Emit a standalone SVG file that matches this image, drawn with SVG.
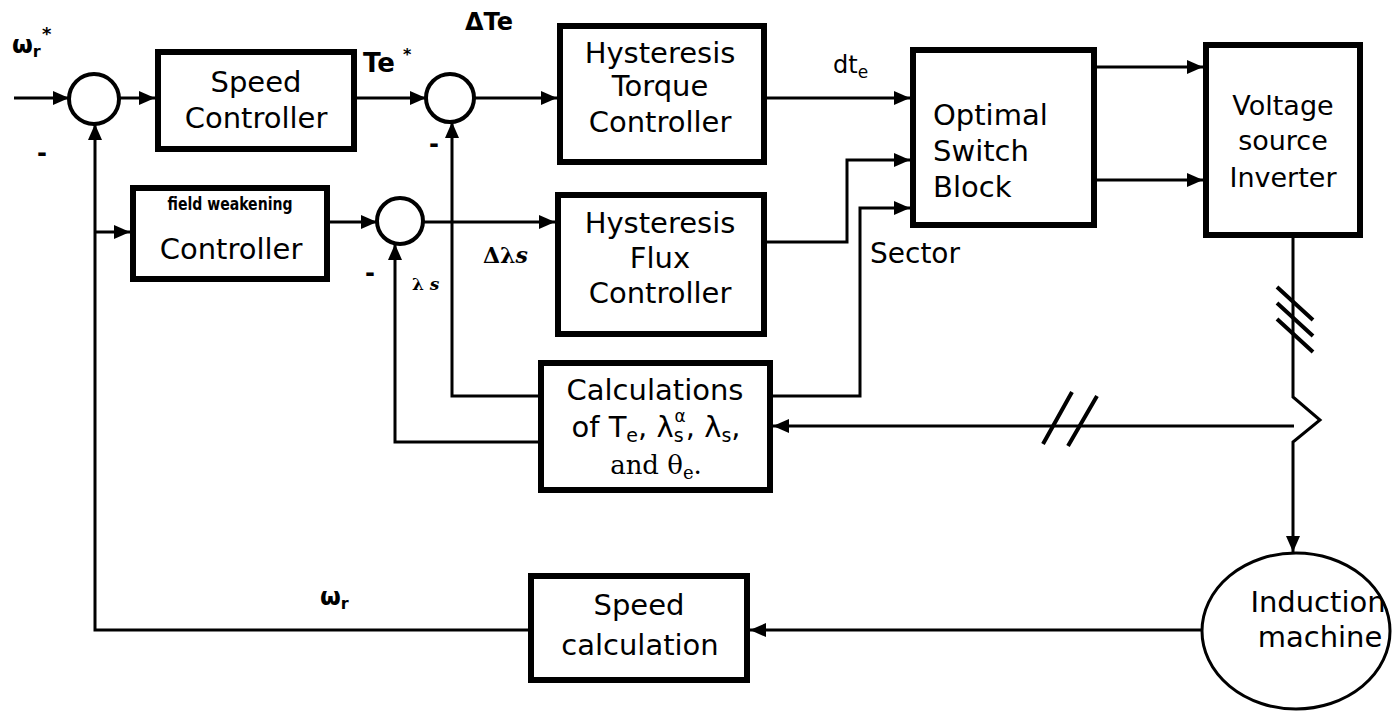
<svg xmlns="http://www.w3.org/2000/svg" width="1392" height="712" viewBox="0 0 1392 712">
<style>
.box{fill:#fff;stroke:#000;stroke-width:6}
.sum{fill:#fff;stroke:#000;stroke-width:4}
.ln{fill:none;stroke:#000;stroke-width:3}
.sl{fill:none;stroke:#000;stroke-width:4}
.t{font-family:"DejaVu Sans","Liberation Sans",sans-serif;font-size:29px;text-anchor:middle;fill:#000}
.tl{font-family:"DejaVu Sans","Liberation Sans",sans-serif;font-size:29px;fill:#000}
.lb{font-family:"DejaVu Sans","Liberation Sans",sans-serif;font-weight:bold;font-size:24px;fill:#000}
.lr{font-family:"DejaVu Sans","Liberation Sans",sans-serif;font-size:24px;fill:#000}
.ls{font-family:"DejaVu Serif","Liberation Serif",serif;font-weight:bold;fill:#000}
</style>
<defs>
<marker id="ah" viewBox="0 0 16 14" refX="16" refY="7" markerWidth="16" markerHeight="14" markerUnits="userSpaceOnUse" orient="auto"><path d="M0,0 L16,7 L0,14 z" fill="#000"/></marker>
</defs>
<rect width="1392" height="712" fill="#fff"/>

<g id="connectors">
<path class="ln" d="M14,98 H69" marker-end="url(#ah)"/>
<path class="ln" d="M119,98 H155" marker-end="url(#ah)"/>
<path class="ln" d="M528,630 H95 V124" marker-end="url(#ah)"/>
<path class="ln" d="M95,232 H130" marker-end="url(#ah)"/>
<path class="ln" d="M357,98 H426" marker-end="url(#ah)"/>
<path class="ln" d="M474,98 H557" marker-end="url(#ah)"/>
<path class="ln" d="M767,98 H910" marker-end="url(#ah)"/>
<path class="ln" d="M330,222 H377" marker-end="url(#ah)"/>
<path class="ln" d="M423,222 H555" marker-end="url(#ah)"/>
<path class="ln" d="M767,242 H847 V160 H910" marker-end="url(#ah)"/>
<path class="ln" d="M773,396 H860 V208 H910" marker-end="url(#ah)"/>
<path class="ln" d="M1097,67 H1203" marker-end="url(#ah)"/>
<path class="ln" d="M1097,180 H1203" marker-end="url(#ah)"/>
<path class="ln" d="M1293,238 V397 L1320,420 L1293,442 V552" marker-end="url(#ah)"/>
<path class="ln" d="M1294,426 H773" marker-end="url(#ah)"/>
<path class="ln" d="M538,396 H452 V122" marker-end="url(#ah)"/>
<path class="ln" d="M538,442 H395 V244" marker-end="url(#ah)"/>
<path class="ln" d="M1202,630 H750" marker-end="url(#ah)"/>
<path class="sl" d="M1277,287 L1313,320 M1277,303 L1313,336 M1277,319 L1313,352"/>
<path class="sl" d="M1043,444 L1072,392 M1068,446 L1097,396"/>
</g>

<g id="sum1"><circle class="sum" cx="94" cy="99" r="25"/></g>
<g id="sum2"><circle class="sum" cx="450" cy="98" r="24"/></g>
<g id="sum3"><circle class="sum" cx="400" cy="221" r="23"/></g>

<g id="speed-controller">
<rect class="box" x="158" y="52" width="196" height="97"/>
<text class="t" x="256" y="92">Speed</text>
<text class="t" x="256" y="128">Controller</text>
</g>

<g id="field-weakening-controller">
<rect class="box" x="133" y="188" width="194" height="91"/>
<text x="230" y="210" textLength="125" lengthAdjust="spacingAndGlyphs" style="font-family:'DejaVu Sans',sans-serif;font-weight:bold;font-size:18px;text-anchor:middle">field weakening</text>
<text class="t" x="231" y="259">Controller</text>
</g>

<g id="hysteresis-torque-controller">
<rect class="box" x="560" y="26" width="204" height="136"/>
<text class="t" x="660" y="63">Hysteresis</text>
<text class="t" x="660" y="96">Torque</text>
<text class="t" x="660" y="132">Controller</text>
</g>

<g id="hysteresis-flux-controller">
<rect class="box" x="558" y="195" width="206" height="139"/>
<text class="t" x="660" y="233">Hysteresis</text>
<text class="t" x="660" y="268">Flux</text>
<text class="t" x="660" y="303">Controller</text>
</g>

<g id="calculations">
<rect class="box" x="541" y="363" width="229" height="127"/>
<text class="t" x="655" y="400">Calculations</text>
<text class="t" x="656" y="437">of T<tspan font-size="19" dy="5">e</tspan><tspan dy="-5">, λ</tspan><tspan font-size="19" dy="5">s</tspan><tspan font-size="17" dx="-9" dy="-20">α</tspan><tspan dy="15">, λ</tspan><tspan font-size="19" dy="5">s</tspan><tspan dy="-5">,</tspan></text>
<text x="656" y="474" style="font-family:'DejaVu Serif','Liberation Serif',serif;font-size:26px;text-anchor:middle">and θ<tspan font-size="18" dy="5">e</tspan><tspan dy="-5">.</tspan></text>
</g>

<g id="optimal-switch-block">
<rect class="box" x="913" y="50" width="181" height="175"/>
<text class="tl" x="933" y="125">Optimal</text>
<text class="tl" x="933" y="161">Switch</text>
<text class="tl" x="933" y="197">Block</text>
</g>

<g id="voltage-source-inverter">
<rect class="box" x="1206" y="45" width="154" height="190"/>
<text class="t" x="1283" y="115" style="font-size:27px">Voltage</text>
<text class="t" x="1283" y="150" style="font-size:27px">source</text>
<text class="t" x="1283" y="187" style="font-size:27px">Inverter</text>
</g>

<g id="induction-machine">
<ellipse cx="1296" cy="631" rx="94" ry="78" fill="#fff" stroke="#000" stroke-width="3"/>
<text class="t" x="1318" y="612">Induction</text>
<text class="t" x="1320" y="647">machine</text>
</g>

<g id="speed-calculation">
<rect class="box" x="531" y="576" width="216" height="104"/>
<text class="t" x="639" y="615">Speed</text>
<text class="t" x="640" y="655">calculation</text>
</g>

<g id="labels">
<text class="lb" x="12" y="53">ω<tspan font-size="16" dy="4">r</tspan></text>
<text class="lb" x="42" y="40" style="font-size:18px">*</text>
<text class="lb" x="363" y="72" style="font-size:26px">Te</text>
<text class="lb" x="403" y="60" style="font-size:16px">*</text>
<text class="lb" x="465" y="30">ΔTe</text>
<text class="lr" x="833" y="73">dt<tspan font-size="17" dy="5">e</tspan></text>
<text class="tl" x="870" y="263" style="font-size:28px">Sector</text>
<text class="ls" x="483" y="263" style="font-size:22px">Δλ<tspan font-style="italic">s</tspan></text>
<text class="ls" x="412" y="290" style="font-size:17px">λ <tspan font-style="italic">s</tspan></text>
<text class="lb" x="320" y="605">ω<tspan font-size="16" dy="4">r</tspan></text>
<text class="lb" x="37" y="161">-</text>
<text class="lb" x="429" y="152">-</text>
<text class="lb" x="365" y="281">-</text>
</g>
</svg>
